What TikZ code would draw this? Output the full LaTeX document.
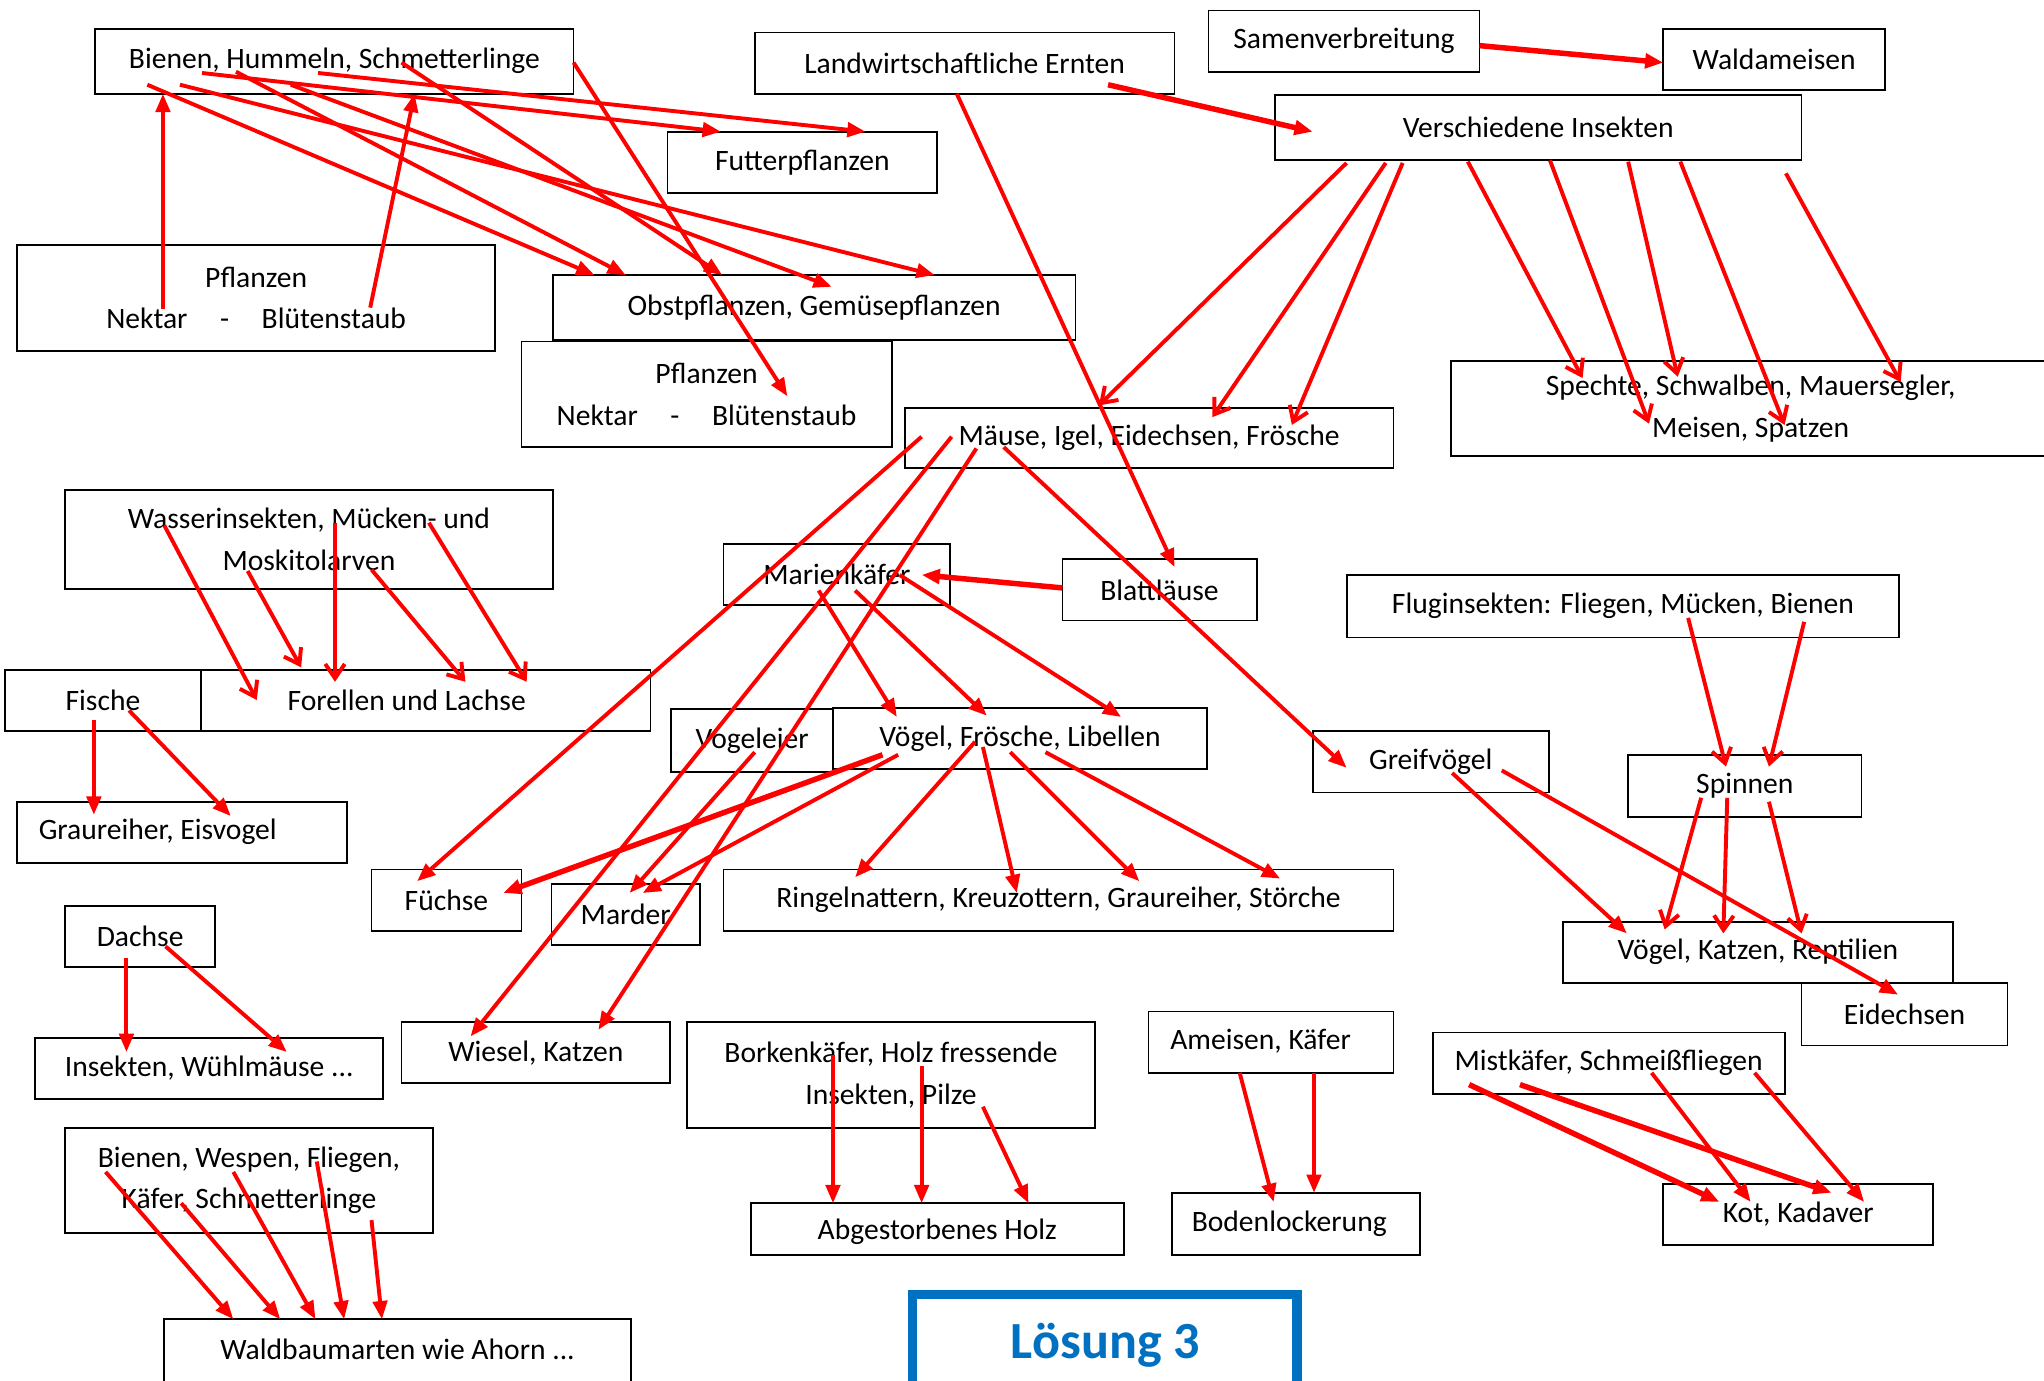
\documentclass[tikz,border=0pt]{standalone}
\usepackage{fontspec}
\setmainfont{Carlito}
\usetikzlibrary{arrows.meta}
\definecolor{lblue}{RGB}{0,112,192}
\definecolor{ared}{RGB}{255,0,0}
\tikzset{
  box/.style={draw=black, line width=1.4pt, inner sep=0pt, outer sep=0pt, anchor=north west, align=center, font=\fontsize{22.7}{32}\selectfont},
  txt/.style={inner sep=0pt, font=\fontsize{22.7}{32}\selectfont},
  fa/.style={draw=ared, line width=3pt, -{Triangle[length=14pt,width=11pt]}},
  fat/.style={fa, line width=4.2pt},
  va/.style={draw=ared, line width=3pt, -{Straight Barb[length=11pt,width=15pt]}},
}
\begin{document}
\begin{tikzpicture}[x=1pt,y=-1pt]
\useasboundingbox (0,0) rectangle (1568,1059);
\fill[white] (0,0) rectangle (1568,1059);
\clip (0,0) rectangle (1568,1059);

% ---------- boxes ----------
\node[box, minimum width=367pt, minimum height=50pt] (bien) at (73,22) {Bienen, Hummeln, Schmetterlinge};
\node[box, minimum width=322pt, minimum height=47pt] (land) at (579,25) {Landwirtschaftliche Ernten};
\node[box, minimum width=208pt, minimum height=47pt] (samen) at (927,8) {Samenverbreitung};
\node[box, minimum width=170pt, minimum height=47pt] (wald) at (1276,22) {Waldameisen};
\node[box, minimum width=404pt, minimum height=50pt] (vers) at (978,73) {Verschiedene Insekten};
\node[box, minimum width=207pt, minimum height=47pt] (futt) at (512,101) {Futterpflanzen};
\node[box, minimum width=367pt, minimum height=81pt] (pfl1) at (13,188) {Pflanzen\\Nektar\hspace{1.1em}-\hspace{1.1em}Blütenstaub};
\node[box, minimum width=401pt, minimum height=50pt] (obst) at (424,211) {Obstpflanzen, Gemüsepflanzen};
\node[box, minimum width=284pt, minimum height=81pt] (pfl2) at (400,262) {Pflanzen\\Nektar\hspace{1.1em}-\hspace{1.1em}Blütenstaub};
\node[box, minimum width=375pt, minimum height=46pt] (maeuse) at (694,313) {Mäuse, Igel, Eidechsen, Frösche};
\node[box, minimum width=460pt, minimum height=73pt] (specht) at (1113,277) {Spechte, Schwalben, Mauersegler,\\Meisen, Spatzen};
\node[box, minimum width=374pt, minimum height=76pt] (wasser) at (50,376) {Wasserinsekten, Mücken- und\\Moskitolarven};
\node[box, minimum width=174pt, minimum height=47pt] (marien) at (555,417) {Marienkäfer};
\node[box, minimum width=149pt, minimum height=47pt] (blatt) at (815,429) {Blattläuse};
\node[box, minimum width=424pt, minimum height=48pt] (flug) at (1033,441) {Fluginsekten: Fliegen, Mücken, Bienen};
\node[box, minimum width=374pt, minimum height=47pt] (forellen) at (125,514) {Forellen und Lachse};
\node[box, fill=white, minimum width=150pt, minimum height=47pt] (fische) at (4,514) {Fische};
\node[box, minimum width=124pt, minimum height=48pt] (vogeleier) at (515,544) {Vogeleier};
\node[box, minimum width=287pt, minimum height=47pt] (voegel) at (639,543) {Vögel, Frösche, Libellen};
\node[box, minimum width=181pt, minimum height=47pt] (greif) at (1007,561) {Greifvögel};
\node[box, minimum width=179pt, minimum height=48pt] (spinnen) at (1249,579) {Spinnen};
\node[box, minimum width=253pt, minimum height=47pt] (grau) at (13,615) {};
\node[txt] (grau-t) at (121,638) {Graureiher, Eisvogel};
\node[box, minimum width=115pt, minimum height=47pt] (fuechse) at (285,667) {Füchse};
\node[box, minimum width=114pt, minimum height=47pt] (marder) at (423,678) {Marder};
\node[box, minimum width=514pt, minimum height=47pt] (ringel) at (555,667) {Ringelnattern, Kreuzottern, Graureiher, Störche};
\node[box, minimum width=115pt, minimum height=47pt] (dachse) at (50,695) {Dachse};
\node[box, minimum width=299pt, minimum height=47pt] (vkr) at (1199,707) {Vögel, Katzen, Reptilien};
\node[box, minimum width=158pt, minimum height=48pt] (eidech) at (1382,754) {Eidechsen};
\node[box, minimum width=267pt, minimum height=47pt] (insekt) at (27,796) {Insekten, Wühlmäuse ...};
\node[box, minimum width=206pt, minimum height=47pt] (wiesel) at (308,784) {Wiesel, Katzen};
\node[box, minimum width=313pt, minimum height=81pt] (borken) at (527,784) {Borkenkäfer, Holz fressende\\Insekten, Pilze};
\node[box, minimum width=188pt, minimum height=47pt] (ameisen) at (881,776) {};
\node[txt] (ameisen-t) at (967,799) {Ameisen, Käfer};
\node[box, minimum width=270pt, minimum height=47pt] (mist) at (1099,792) {Mistkäfer, Schmeißfliegen};
\node[box, minimum width=282pt, minimum height=81pt] (bwf) at (50,865) {Bienen, Wespen, Fliegen,\\Käfer, Schmetterlinge};
\node[box, minimum width=286pt, minimum height=40pt] (abgest) at (576,923) {};
\node[txt] (abgest-t) at (719,945) {Abgestorbenes Holz};
\node[box, minimum width=190pt, minimum height=48pt] (boden) at (899,915) {};
\node[txt] (boden-t) at (989,938.5) {Bodenlockerung};
\node[box, minimum width=207pt, minimum height=47pt] (kot) at (1276,908) {Kot, Kadaver};
\node[box, minimum width=358pt, minimum height=80pt] (waldb) at (126,1012) {};
\node[txt] (waldb-t) at (305,1035) {Waldbaumarten wie Ahorn ...};
\node[box, draw=lblue, line width=7.5pt, minimum width=295pt, minimum height=90pt] (loes) at (700,993) {};
\node[inner sep=0pt, text=lblue, font=\fontsize{40}{44}\selectfont\bfseries] (loes-t) at (848,1032) {Lösung 3};

% ---------- arrows ----------
% Bienen, Hummeln, Schmetterlinge
\draw[fa] ([shift={(82,34)}]bien.north west) -- ([shift={(41,0)}]futt.north west);
\draw[fa] ([shift={(171,34)}]bien.north west) -- ([shift={(152,0)}]futt.north west);
\draw[fa] ([shift={(40,43)}]bien.north west) -- ([shift={(32,0)}]obst.north west);
\draw[fa] ([shift={(65,43)}]bien.north west) -- ([shift={(293,0)}]obst.north west);
\draw[fa] ([shift={(108,33)}]bien.north west) -- ([shift={(56,0)}]obst.north west);
\draw[fa] ([shift={(150,43)}]bien.north west) -- ([shift={(214,9)}]obst.north west);
\draw[fa] ([shift={(235,26)}]bien.north west) -- ([shift={(130,0)}]obst.north west);
\draw[fa] ([shift={(367,26)}]bien.north west) -- ([shift={(204,42)}]pfl2.north west);
% Pflanzen (links)
\draw[fa] ([shift={(112,49)}]pfl1.north west) -- ([shift={(52,50)}]bien.north west);
\draw[fa] ([shift={(271,48)}]pfl1.north west) -- ([shift={(245,50)}]bien.north west);
% Landwirtschaftliche Ernten
\draw[fat] ([shift={(271,40)}]land.north west) -- ([shift={(29,28)}]vers.north west);
\draw[fa] ([shift={(155,47)}]land.north west) -- ([shift={(86,6)}]blatt.north west);
% Samenverbreitung
\draw[fat] ([shift={(208,27)}]samen.north west) -- ([shift={(0,26)}]wald.north west);
% Verschiedene Insekten
\draw[va] ([shift={(55,52)}]vers.north west) -- ([shift={(149,-2)}]maeuse.north west);
\draw[va] ([shift={(85,52)}]vers.north west) -- ([shift={(236,7)}]maeuse.north west);
\draw[va] ([shift={(98,52)}]vers.north west) -- ([shift={(297,13)}]maeuse.north west);
\draw[va] ([shift={(148,51)}]vers.north west) -- ([shift={(101,13)}]specht.north west);
\draw[va] ([shift={(211,50)}]vers.north west) -- ([shift={(152,48)}]specht.north west);
\draw[va] ([shift={(271,51)}]vers.north west) -- ([shift={(174,12)}]specht.north west);
\draw[va] ([shift={(311,51)}]vers.north west) -- ([shift={(256,49)}]specht.north west);
\draw[va] ([shift={(392,60)}]vers.north west) -- ([shift={(345,16)}]specht.north west);
% Maeuse, Igel, ...
\draw[fa] ([shift={(13,22)}]maeuse.north west) -- ([shift={(35,9)}]fuechse.north west);
\draw[fa] ([shift={(36,22)}]maeuse.north west) -- ([shift={(53,11)}]wiesel.north west);
\draw[fa] ([shift={(55,31)}]maeuse.north west) -- ([shift={(151,6)}]wiesel.north west);
\draw[fa] ([shift={(76,30)}]maeuse.north west) -- ([shift={(26,28)}]greif.north west);
% Blattlaeuse
\draw[fat] ([shift={(0,22)}]blatt.north west) -- ([shift={(152,24)}]marien.north west);
% Marienkaefer
\draw[fa] ([shift={(73,36)}]marien.north west) -- ([shift={(49,7)}]voegel.north west);
\draw[fa] ([shift={(101,36)}]marien.north west) -- ([shift={(118,6)}]voegel.north west);
\draw[fa] ([shift={(135,24)}]marien.north west) -- ([shift={(221,7)}]voegel.north west);
% Wasserinsekten
\draw[va] ([shift={(76,27)}]wasser.north west) -- ([shift={(72,23)}]forellen.north west);
\draw[va] ([shift={(140,62)}]wasser.north west) -- ([shift={(106,-2)}]forellen.north west);
\draw[va] ([shift={(207,25)}]wasser.north west) -- ([shift={(132,9)}]forellen.north west);
\draw[va] ([shift={(235,61)}]wasser.north west) -- ([shift={(232,9)}]forellen.north west);
\draw[va] ([shift={(279,25)}]wasser.north west) -- ([shift={(279,9)}]forellen.north west);
% Fische
\draw[fa] ([shift={(68,38)}]fische.north west) -- ([shift={(59,10)}]grau.north west);
\draw[fa] ([shift={(95,31)}]fische.north west) -- ([shift={(164,11)}]grau.north west);
% Vogeleier
\draw[fa] ([shift={(64,33)}]vogeleier.north west) -- ([shift={(60,7)}]marder.north west);
% Voegel, Froesche, Libellen
\draw[fat] ([shift={(38,36)}]voegel.north west) -- ([shift={(101,18)}]fuechse.north west);
\draw[fa] ([shift={(50,36)}]voegel.north west) -- ([shift={(70,7)}]marder.north west);
\draw[fa] ([shift={(109,26)}]voegel.north west) -- ([shift={(101,6)}]ringel.north west);
\draw[fa] ([shift={(115,30)}]voegel.north west) -- ([shift={(225,18)}]ringel.north west);
\draw[fa] ([shift={(136,34)}]voegel.north west) -- ([shift={(319,9)}]ringel.north west);
\draw[fa] ([shift={(163,34)}]voegel.north west) -- ([shift={(427,7)}]ringel.north west);
% Greifvoegel
\draw[fa] ([shift={(107,32)}]greif.north west) -- ([shift={(49,9)}]vkr.north west);
\draw[fa] ([shift={(145,30)}]greif.north west) -- ([shift={(74,9)}]eidech.north west);
% Fluginsekten
\draw[va] ([shift={(262,33)}]flug.north west) -- ([shift={(75,9)}]spinnen.north west);
\draw[va] ([shift={(351,36)}]flug.north west) -- ([shift={(108,9)}]spinnen.north west);
% Spinnen
\draw[va] ([shift={(56,33)}]spinnen.north west) -- ([shift={(78,6)}]vkr.north west);
\draw[va] ([shift={(76,33)}]spinnen.north west) -- ([shift={(123,9)}]vkr.north west);
\draw[va] ([shift={(108,36)}]spinnen.north west) -- ([shift={(183,9)}]vkr.north west);
% Dachse
\draw[fa] ([shift={(47,40)}]dachse.north west) -- ([shift={(70,11)}]insekt.north west);
\draw[fa] ([shift={(77,31)}]dachse.north west) -- ([shift={(193,11)}]insekt.north west);
% Borkenkaefer
\draw[fa] ([shift={(112,25)}]borken.north west) -- ([shift={(63,0)}]abgest.north west);
\draw[fa] ([shift={(180,34)}]borken.north west) -- ([shift={(131,0)}]abgest.north west);
\draw[fa] ([shift={(227,65)}]borken.north west) -- ([shift={(213,0)}]abgest.north west);
% Ameisen, Kaefer
\draw[fa] ([shift={(70,47)}]ameisen.north west) -- ([shift={(78,7)}]boden.north west);
\draw[fa] ([shift={(127,47)}]ameisen.north west) -- ([shift={(109,0)}]boden.north west);
% Mistkaefer, Schmeissfliegen
\draw[fat] ([shift={(28,40)}]mist.north west) -- ([shift={(43,14)}]kot.north west);
\draw[fat] ([shift={(67,40)}]mist.north west) -- ([shift={(129,7)}]kot.north west);
\draw[fa] ([shift={(168,31)}]mist.north west) -- ([shift={(67,14)}]kot.north west);
\draw[fa] ([shift={(247,31)}]mist.north west) -- ([shift={(154,14)}]kot.north west);
% Bienen, Wespen, Fliegen, Kaefer, Schmetterlinge
\draw[fa] ([shift={(31,34)}]bwf.north west) -- ([shift={(53,0)}]waldb.north west);
\draw[fa] ([shift={(89,58)}]bwf.north west) -- ([shift={(89,0)}]waldb.north west);
\draw[fa] ([shift={(129,34)}]bwf.north west) -- ([shift={(116,0)}]waldb.north west);
\draw[fa] ([shift={(193,26)}]bwf.north west) -- ([shift={(138,0)}]waldb.north west);
\draw[fa] ([shift={(235,71)}]bwf.north west) -- ([shift={(167,0)}]waldb.north west);
\end{tikzpicture}
\end{document}
